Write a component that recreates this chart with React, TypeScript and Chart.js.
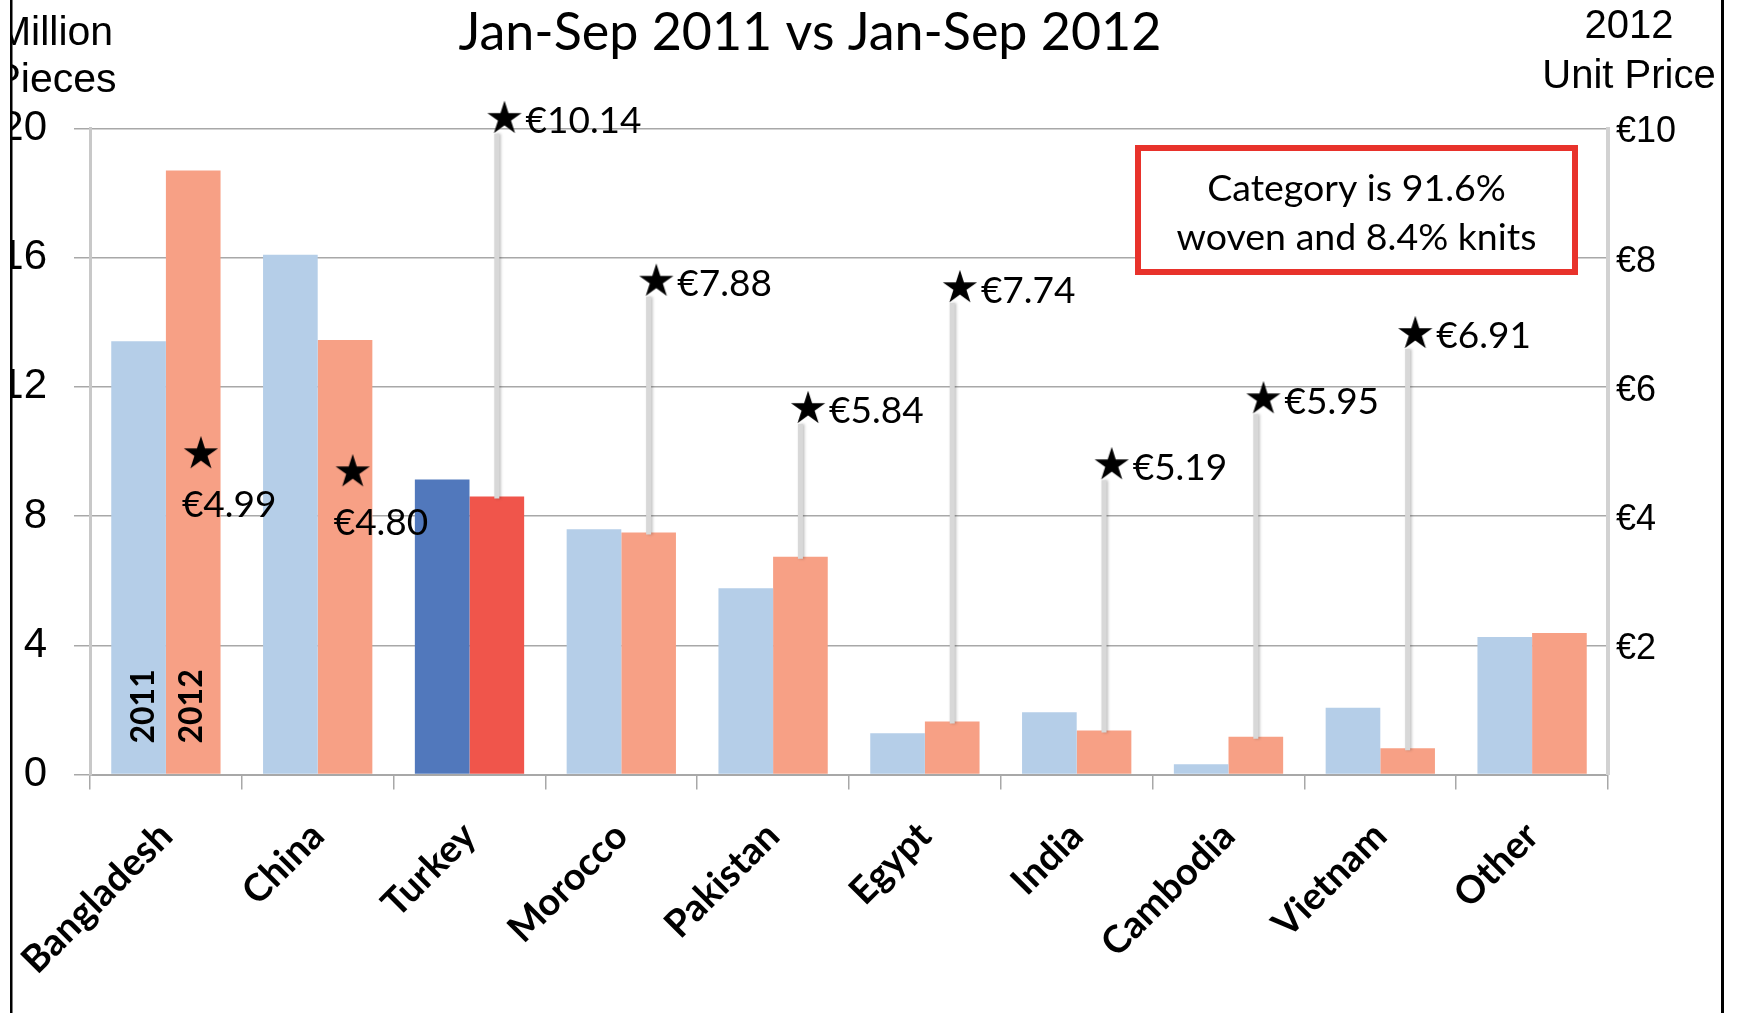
import React, { useEffect, useRef } from 'react';
import { Chart, registerables } from 'chart.js';

Chart.register(...registerables);

// ---------- data ----------
const categories = ['Bangladesh', 'China', 'Turkey', 'Morocco', 'Pakistan', 'Egypt', 'India', 'Cambodia', 'Vietnam', 'Other'];
const pieces2011 = [13.41, 16.09, 9.13, 7.59, 5.77, 1.28, 1.93, 0.32, 2.07, 4.26];
const pieces2012 = [18.7, 13.45, 8.61, 7.49, 6.74, 1.64, 1.36, 1.17, 0.81, 4.38];
const unitPrice2012: (number | null)[] = [4.99, 4.8, 10.14, 7.88, 5.84, 7.74, 5.19, 5.95, 6.91, null];
// vertical level at which each star sits in the picture (right axis, €)
const starLevel: (number | null)[] = [4.99, 4.71, 10.18, 7.66, 5.69, 7.56, 4.82, 5.84, 6.85, null];
const leftTicks = [0, 4, 8, 12, 16, 20];
const rightTicks = [2, 4, 6, 8, 10];
const highlightCategory = 'Turkey';
const titleText = 'Jan-Sep 2011 vs Jan-Sep 2012';
const leftAxisTitle = ['Million', 'Pieces'];
const rightAxisTitle = ['2012', 'Unit Price'];
const noteLines = ['Category is 91.6%', 'woven and 8.4% knits'];
const seriesNames = ['2011', '2012'];

// ---------- styles ----------
const W = 1737;
const H = 1013;
const C2011 = '#b5cee8';
const C2012 = '#f7a085';
const C2011_HI = '#5178bc';
const C2012_HI = '#f0554b';
const GRID = '#a8a8a8';
const CALIBRI = 'Lato, "Open Sans", sans-serif';
const ARIAL = '"Liberation Sans", Arial, sans-serif';
const STAR_SHIFT = 35; // star sits right of the category centre, over the 2012 bar

function makeStar(): HTMLCanvasElement {
  const c = document.createElement('canvas');
  const half = STAR_SHIFT + 20;
  c.width = half * 2;
  c.height = 40;
  const g = c.getContext('2d')!;
  const R = 18;
  const r = R * 0.382;
  const cx = half + STAR_SHIFT;
  const cy = 21.7;
  g.beginPath();
  for (let k = 0; k < 10; k++) {
    const rad = k % 2 === 0 ? R : r;
    const a = -Math.PI / 2 + (k * Math.PI) / 5;
    const px = cx + rad * Math.cos(a);
    const py = cy + rad * Math.sin(a);
    if (k === 0) g.moveTo(px, py);
    else g.lineTo(px, py);
  }
  g.closePath();
  g.fillStyle = '#000';
  g.fill();
  return c;
}

const decorPlugin = {
  id: 'decor',
  beforeDatasetDraw(chart: any, args: any) {
    if (args.index !== 2) return;
    const ctx = chart.ctx;
    const bars = chart.getDatasetMeta(1).data;
    const y1 = chart.scales.y1;
    ctx.save();
    ctx.strokeStyle = '#d8d8d8';
    ctx.lineWidth = 5;
    ctx.shadowColor = 'rgba(0,0,0,0.25)';
    ctx.shadowBlur = 3;
    ctx.shadowOffsetX = 1.5;
    starLevel.forEach((v, i) => {
      if (v == null) return;
      const bar = bars[i];
      const top = y1.getPixelForValue(v) + 17;
      const bottom = bar.y + 2;
      if (bottom <= top) return;
      ctx.beginPath();
      ctx.moveTo(bar.x, bottom);
      ctx.lineTo(bar.x, top);
      ctx.stroke();
    });
    ctx.restore();
  },
  afterDatasetsDraw(chart: any) {
    const ctx = chart.ctx;
    const stars = chart.getDatasetMeta(2).data;
    const bars2012 = chart.getDatasetMeta(1).data;
    const bars2011 = chart.getDatasetMeta(0).data;
    ctx.save();
    ctx.fillStyle = '#000';
    ctx.font = `37px ${CALIBRI}`;
    ctx.textAlign = 'left';
    ctx.textBaseline = 'alphabetic';
    unitPrice2012.forEach((p, i) => {
      if (p == null || starLevel[i] == null) return;
      const pt = stars[i];
      const sx = pt.x + STAR_SHIFT;
      const txt = '€' + p.toFixed(2);
      const insideBar = pt.y > bars2012[i].y;
      if (insideBar) ctx.fillText(txt, sx - 19, pt.y + 64.5);
      else ctx.fillText(txt, sx + 21, pt.y + 16.5);
    });
    // series names inside the first pair of bars
    ctx.font = `bold 32px ${CALIBRI}`;
    const bottom = chart.scales.y.getPixelForValue(0);
    const nudge = [15, 9];
    [bars2011[0], bars2012[0]].forEach((b: any, k: number) => {
      ctx.save();
      ctx.translate(b.x + nudge[k], bottom - 31);
      ctx.rotate(-Math.PI / 2);
      ctx.textAlign = 'left';
      ctx.fillText(seriesNames[k], 0, 0);
      ctx.restore();
    });
    ctx.restore();
  },
  afterDraw(chart: any) {
    const ctx = chart.ctx;
    ctx.save();
    ctx.fillStyle = '#000';
    ctx.textAlign = 'center';
    ctx.textBaseline = 'alphabetic';
    ctx.font = `52px ${CALIBRI}`;
    ctx.fillText(titleText, 810, 50);
    ctx.font = `41px ${ARIAL}`;
    ctx.fillText(leftAxisTitle[0], 55, 45);
    ctx.fillText(leftAxisTitle[1], 55, 92);
    ctx.font = `40px ${ARIAL}`;
    ctx.fillText(rightAxisTitle[0], 1629, 38);
    ctx.fillText(rightAxisTitle[1], 1629, 88);
    // note box
    ctx.fillStyle = '#fff';
    ctx.fillRect(1138, 148, 437, 124);
    ctx.strokeStyle = '#e8322b';
    ctx.lineWidth = 6;
    ctx.strokeRect(1138, 148, 437, 124);
    ctx.fillStyle = '#000';
    ctx.font = `37.5px ${CALIBRI}`;
    ctx.fillText(noteLines[0], 1356.5, 201);
    ctx.fillText(noteLines[1], 1356.5, 250);
    // frame
    ctx.fillStyle = '#fff';
    ctx.fillRect(0, 0, 10, H);
    ctx.fillRect(1724, 0, W - 1724, H);
    ctx.fillStyle = '#000';
    ctx.fillRect(10, 0, 2.5, H);
    ctx.fillRect(1721, 0, 3, H);
    ctx.restore();
  },
};

export default function App() {
  const ref = useRef<HTMLCanvasElement | null>(null);
  useEffect(() => {
    if (!ref.current) return;
    const star = makeStar();
    const chart = new Chart(ref.current, {
      type: 'bar',
      data: {
        labels: categories,
        datasets: [
          {
            type: 'bar',
            label: seriesNames[0],
            data: pieces2011,
            backgroundColor: categories.map((c) => (c === highlightCategory ? C2011_HI : C2011)),
            borderWidth: 0,
            barPercentage: 1,
            categoryPercentage: 0.72,
            xAxisID: 'x',
            yAxisID: 'y',
            order: 1,
          },
          {
            type: 'bar',
            label: seriesNames[1],
            data: pieces2012,
            backgroundColor: categories.map((c) => (c === highlightCategory ? C2012_HI : C2012)),
            borderWidth: 0,
            barPercentage: 1,
            categoryPercentage: 0.72,
            xAxisID: 'x',
            yAxisID: 'y',
            order: 1,
          },
          {
            type: 'line',
            label: '2012 Unit Price',
            data: starLevel as any,
            pointStyle: star as any,
            pointRadius: 18,
            showLine: false,
            spanGaps: false,
            clip: false,
            xAxisID: 'x',
            yAxisID: 'y1',
            order: 0,
          } as any,
        ],
      },
      options: {
        responsive: false,
        animation: false,
        devicePixelRatio: 1,
        layout: { padding: { top: 128.5, left: 0, right: 0, bottom: 0 } },
        plugins: { legend: { display: false }, tooltip: { enabled: false }, title: { display: false } },
        scales: {
          x: {
            type: 'category',
            offset: true,
            grid: {
              display: true,
              drawOnChartArea: false,
              drawTicks: true,
              tickLength: 15,
              color: GRID,
              lineWidth: 1.5,
              offset: true,
            },
            border: { display: true, color: GRID, width: 2 },
            ticks: {
              color: '#000',
              font: { family: CALIBRI, size: 38, weight: 'bold' },
              minRotation: 45,
              maxRotation: 45,
              autoSkip: false,
              padding: 24,
            },
            afterFit: (s: any) => {
              s.height = H - 774.5;
            },
          },
          y: {
            position: 'left',
            min: 0,
            max: 20,
            afterBuildTicks: (s: any) => {
              s.ticks = leftTicks.map((v) => ({ value: v }));
            },
            grid: { color: GRID, lineWidth: 1.5, tickLength: 16, drawTicks: true },
            border: { color: '#c8c8c8', width: 3 },
            ticks: { color: '#000', font: { family: ARIAL, size: 42 }, padding: 27 },
            afterFit: (s: any) => {
              s.width = 90;
            },
          },
          y1: {
            position: 'right',
            min: 0,
            max: 10,
            afterBuildTicks: (s: any) => {
              s.ticks = rightTicks.map((v) => ({ value: v }));
            },
            grid: { drawOnChartArea: false, drawTicks: false },
            border: { color: '#d2d2d2', width: 4 },
            ticks: {
              color: '#000',
              font: { family: ARIAL, size: 36 },
              padding: 8,
              labelOffset: 4,
              callback: (v: any) => '€' + v,
            },
            afterFit: (s: any) => {
              s.width = W - 1608;
            },
          },
        },
      },
      plugins: [decorPlugin],
    } as any);
    return () => chart.destroy();
  }, []);
  return (
    <div style={{ position: 'fixed', left: 0, top: 0, width: W, height: H, background: '#fff' }}>
      <canvas ref={ref} width={W} height={H} style={{ width: W, height: H, display: 'block' }} />
    </div>
  );
}
